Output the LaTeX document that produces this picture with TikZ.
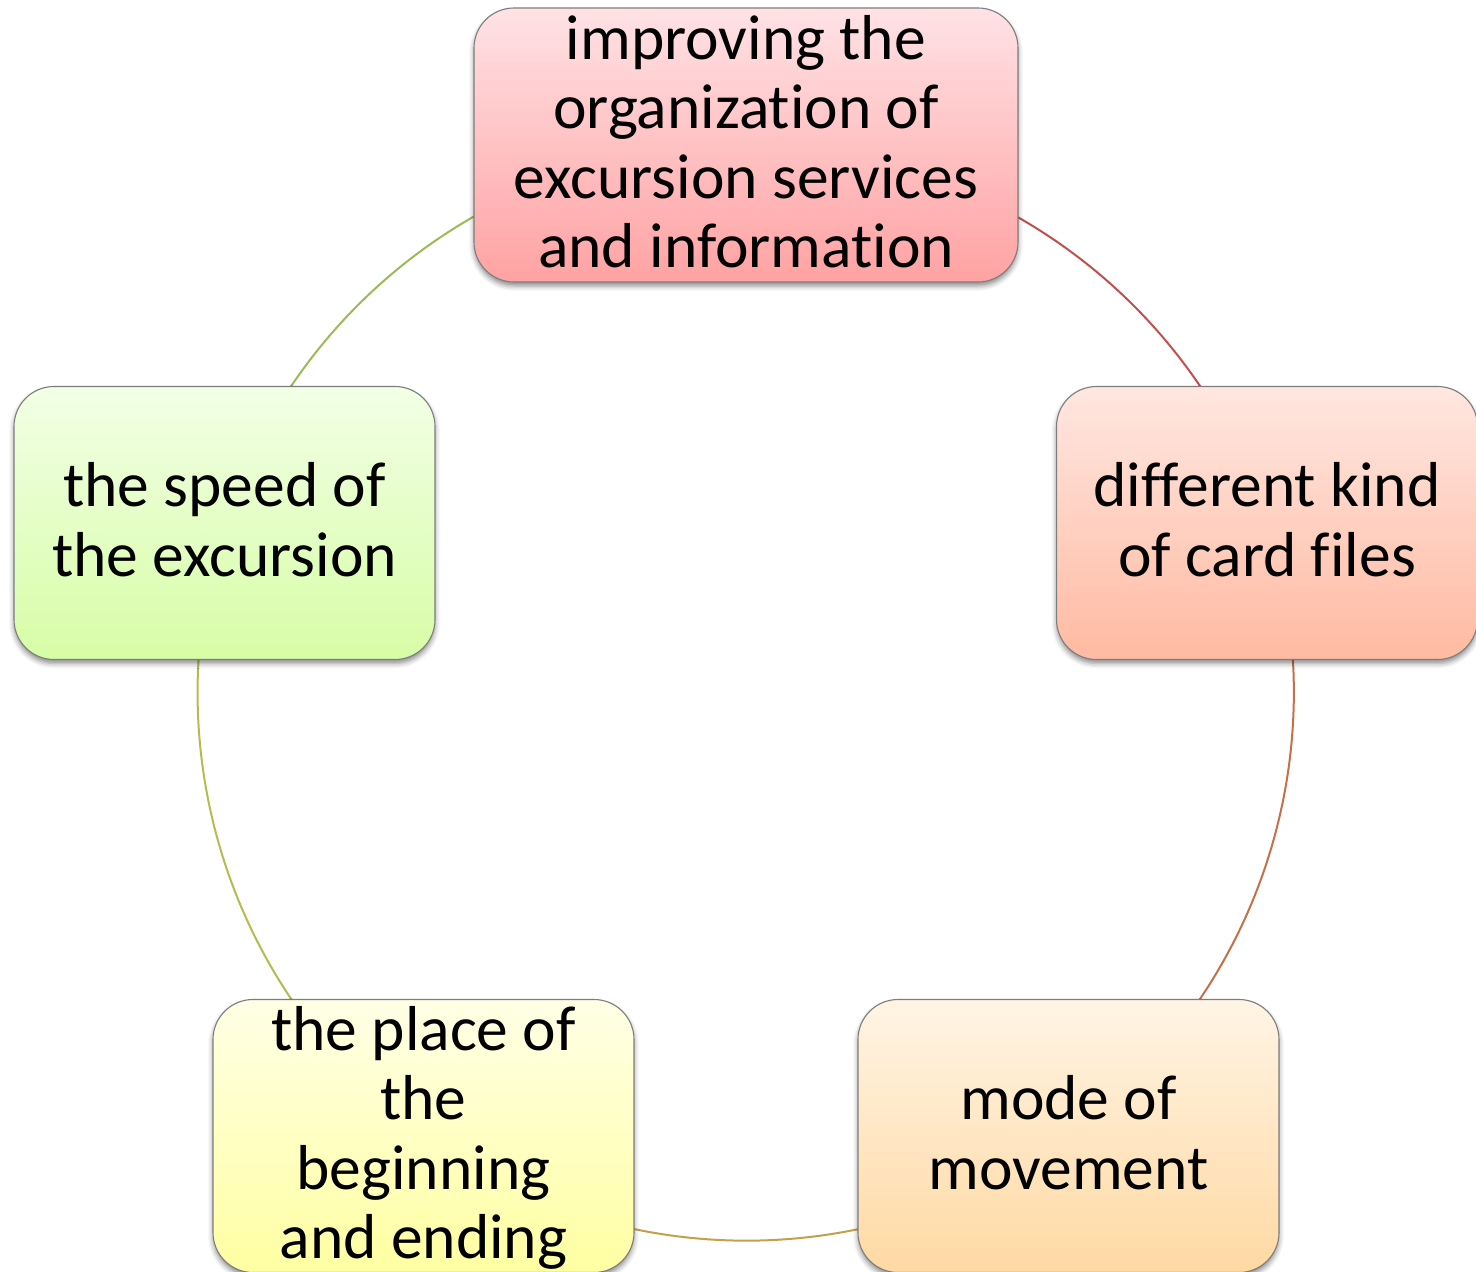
\documentclass[tikz,border=0pt]{standalone}
\usepackage{fontspec}
\setmainfont{Carlito}[Ligatures=NoCommon]
\usetikzlibrary{shadows.blur,backgrounds}
\definecolor{c1t}{RGB}{255,226,229}\definecolor{c1b}{RGB}{255,162,163}
\definecolor{c2t}{RGB}{255,231,224}\definecolor{c2b}{RGB}{255,186,162}
\definecolor{c3t}{RGB}{255,244,228}\definecolor{c3b}{RGB}{255,217,163}
\definecolor{c4t}{RGB}{255,255,230}\definecolor{c4b}{RGB}{255,255,162}
\definecolor{c5t}{RGB}{242,255,230}\definecolor{c5b}{RGB}{215,253,166}
\definecolor{a1}{RGB}{192,80,77}
\definecolor{a2}{RGB}{196,112,72}
\definecolor{a3}{RGB}{196,160,72}
\definecolor{a4}{RGB}{180,188,80}
\definecolor{a5}{RGB}{155,187,89}
\definecolor{edge}{RGB}{125,125,125}
\tikzset{
  card/.style={draw=edge, line width=1.1pt, rounded corners=40pt,
    minimum width=421pt, minimum height=273pt, inner sep=0pt,
    blur shadow={shadow xshift=0pt, shadow yshift=-4pt, shadow blur radius=5pt, shadow opacity=45}},
  label/.style={align=center, inner sep=0pt, font=\fontsize{63.5}{69.5}\selectfont,
    execute at begin node=\strut, execute at end node=\strut, yshift=-7pt},
  ring/.style={line width=2pt}
}
\begin{document}
\begin{tikzpicture}[x=1pt,y=1pt]
\useasboundingbox (0,0) rectangle (1476,-1272);
\coordinate (c) at (746,-692);
\node[card, minimum width=544pt, minimum height=274pt, top color=c1t, bottom color=c1b] (n1) at (746,-145) {};
\node[card, top color=c2t, bottom color=c2b] (n2) at (1267,-523) {};
\node[card, top color=c3t, bottom color=c3b] (n3) at (1068.5,-1136) {};
\node[card, top color=c4t, bottom color=c4b] (n4) at (423.5,-1136) {};
\node[card, top color=c5t, bottom color=c5b] (n5) at (224.5,-523) {};
\node[label] (t1) at (n1) {improving the\\organization of\\excursion services\\and information};
\node[label] (t2) at (n2) {different kind\\of card files};
\node[label] (t3) at (n3) {mode of\\movement};
\node[label] (t4) at (n4) {the place of\\the\\beginning\\and ending};
\node[label] (t5) at (n5) {the speed of\\the excursion};
\begin{pgfonlayer}{background}
\draw[ring, a1] (n1.center) arc[start angle=90, end angle=18, radius=548];
\draw[ring, a2] (n2.center) arc[start angle=18, end angle=-54, radius=548];
\draw[ring, a3] (n3.center) arc[start angle=-54, end angle=-126, radius=548];
\draw[ring, a4] (n4.center) arc[start angle=-126, end angle=-198, radius=548];
\draw[ring, a5] (n5.center) arc[start angle=162, end angle=90, radius=548];
\end{pgfonlayer}
\end{tikzpicture}
\end{document}
